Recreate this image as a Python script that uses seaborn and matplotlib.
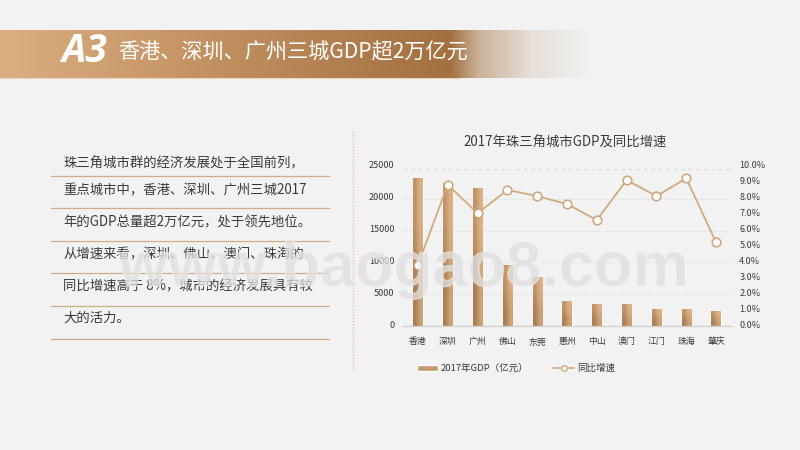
import numpy as np
import matplotlib
matplotlib.use('Agg')
import matplotlib.pyplot as plt
import matplotlib.patheffects as pe
from matplotlib.colors import LinearSegmentedColormap
from matplotlib.lines import Line2D
from matplotlib.patches import Patch
from matplotlib.transforms import ScaledTranslation
import seaborn as sns

# 数据
cities = ['香港', '深圳', '广州', '佛山', '东莞', '惠州', '中山', '澳门', '江门', '珠海', '肇庆']
gdp = [23180, 22400, 21600, 9580, 7710, 3960, 3490, 3490, 2710, 2710, 2400]
growth = [3.84, 8.87, 7.08, 8.54, 8.16, 7.66, 6.66, 9.16, 8.16, 9.27, 5.26]
gdp_ticks = [0, 5000, 10000, 15000, 20000, 25000]
growth_ticks = [0, 1, 2, 3, 4, 5, 6, 7, 8, 9, 10]
body_lines = ['珠三角城市群的经济发展处于全国前列，',
              '重点城市中，香港、深圳、广州三城2017',
              '年的GDP总量超2万亿元，处于领先地位。',
              '从增速来看，深圳、佛山、澳门、珠海的',
              '同比增速高于 8%，城市的经济发展具有较',
              '大的活力。']

BG = '#f2f2f2'
TAN = '#d2aa7e'
RULE = '#d3ab86'
TEXT = '#3a3a3a'

sns.set_theme(style='white')
plt.rcParams['font.family'] = ['Noto Sans CJK SC', 'DejaVu Sans']
plt.rcParams['axes.unicode_minus'] = False

W, H = 800, 450
fig = plt.figure(figsize=(8, 4.5), dpi=100, facecolor=BG)

# 背景层, 像素坐标
bg = fig.add_axes([0, 0, 1, 1], zorder=0)
bg.set_xlim(0, W)
bg.set_ylim(H, 0)
bg.axis('off')

# 顶部横幅渐变
c0 = np.array(matplotlib.colors.to_rgb('#dcae80'))
c1 = np.array(matplotlib.colors.to_rgb('#a3703f'))
c2 = np.array(matplotlib.colors.to_rgb(BG))
banner = np.zeros((1, 600, 3))
for x in range(600):
    if x < 450:
        banner[0, x] = c0 + (c1 - c0) * x / 450
    else:
        t = np.interp(x, [450, 478, 530, 590], [0, 0.5, 0.85, 1])
        banner[0, x] = c1 + (c2 - c1) * t
bg.imshow(banner, extent=(0, 600, 78, 30), aspect='auto', zorder=1, interpolation='bilinear')
bg.plot([0, 460], [78, 78], color='#ecd6bf', lw=0.8, zorder=2)
bg.set_xlim(0, W)
bg.set_ylim(H, 0)
bg.text(61, 51, 'A3', color='white', fontsize=28, fontweight='bold', style='italic',
        family='Open Sans', va='center', ha='left', zorder=3)
bg.text(118, 52, '香港、深圳、广州三城GDP超2万亿元', color='white', fontsize=15.2,
        va='center', ha='left', zorder=3)

# 左侧文字和分隔线
text_y = [163, 190, 222, 254, 286, 318]
rule_y = [176, 208, 241, 273, 306, 339]
for y, line in zip(text_y, body_lines):
    bg.text(63, y, line, color=TEXT, fontsize=9.6, va='center', ha='left')
for y in rule_y:
    bg.plot([51, 329], [y, y], color=RULE, lw=0.9)
bg.plot([353, 353], [131, 372], color='#e2c4a8', lw=1, ls=(0, (1, 1.2)))

# 图表
left, right, top, bottom = 403, 731, 166.7, 326.3
ax = fig.add_axes([left / W, 1 - bottom / H, (right - left) / W, (bottom - top) / H], zorder=1)
ax.patch.set_alpha(0)
sns.barplot(x=cities, y=gdp, ax=ax, width=0.31, color='#c69a6a', saturation=1)

# 柱子渐变
cmap = LinearSegmentedColormap.from_list('bar', ['#ac7f56', '#c99e70', '#dcb084'])
grad = np.array([[0.35, 1.0], [0.0, 0.6]])
for p in list(ax.patches):
    x0, w, h = p.get_x(), p.get_width(), p.get_height()
    im = ax.imshow(grad, extent=(x0, x0 + w, 0, h), cmap=cmap, aspect='auto',
                   interpolation='bilinear', zorder=2.5, vmin=0, vmax=1)
    im.set_clip_path(p)
ax.set_xlim(-0.5, 10.5)
ax.set_ylim(0, 25000)

ax.set_yticks(gdp_ticks)
ax.grid(axis='y', color='#d9d9d9', lw=0.8, ls=(0, (1, 1.5)))
ax.set_axisbelow(True)
# 最上面那条是虚线, 比刻度略低
ax.get_ygridlines()[-1].set_visible(False)
ax.axhline(24590, color='#dcdcdc', lw=0.9, ls=(0, (3.5, 2.5)), zorder=0.5)
ax.tick_params(axis='both', length=0, labelsize=6.5, colors=TEXT)
ax.tick_params(axis='x', pad=8, labelsize=6.4)
ax.tick_params(axis='y', pad=6)
for s in ['top', 'left', 'right']:
    ax.spines[s].set_visible(False)
ax.spines['bottom'].set_color('#d0d0d0')
ax.spines['bottom'].set_linewidth(0.9)

ax2 = ax.twinx()
ax2.set_zorder(2)
sns.lineplot(x=cities, y=growth, ax=ax2, sort=False, color=TAN, lw=1.3, marker='o', ms=6.2,
             mfc='white', mec='#cda477', mew=1.1, errorbar=None)
ax2.set_ylim(0, 10)
ax2.set_yticks(growth_ticks)
ax2.set_yticklabels([f'{v:.1f}%' for v in growth_ticks])
ax2.tick_params(axis='y', length=0, labelsize=6.5, colors=TEXT, pad=6)
ax2.grid(False)
for s in ax2.spines.values():
    s.set_visible(False)

# 刻度文字略微上移
shift = ScaledTranslation(0, 2 / 72 * 0.72, fig.dpi_scale_trans)
for lbl in ax.get_yticklabels() + ax2.get_yticklabels():
    lbl.set_transform(lbl.get_transform() + shift)

fig.text(565 / W, 1 - 142.5 / H, '2017年珠三角城市GDP及同比增速', fontsize=9.6, color=TEXT,
         ha='center', va='center', zorder=3)

# 图例
handles = [Patch(facecolor='#c69a6a', label='2017年GDP（亿元）'),
           Line2D([], [], color=TAN, lw=1.2, marker='o', ms=4, mfc='white', mec=TAN, label='同比增速')]
fig.legend(handles=handles, loc='center', bbox_to_anchor=(516 / W, 1 - 368.5 / H), ncol=2, frameon=False,
           fontsize=6.8, handlelength=2.2, handleheight=0.7, columnspacing=2.6, handletextpad=0.3,
           labelcolor=TEXT)

# 水印
fig.text(404 / W, 1 - 286 / H, 'www.baogao8.com', fontsize=45.5, family='Liberation Sans', fontweight='bold',
         color='#e0e0e0', alpha=0.5, ha='center', va='baseline', zorder=5,
         path_effects=[pe.withStroke(linewidth=1.2, foreground='#f6f6f6', alpha=0.5)])

fig.savefig('out.png', dpi=100, facecolor=BG)
